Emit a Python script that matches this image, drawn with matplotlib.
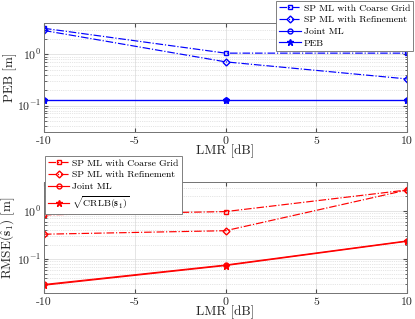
import matplotlib
matplotlib.use("Agg")
import matplotlib.pyplot as plt
from matplotlib.ticker import LogLocator, NullFormatter, FixedLocator, FixedFormatter

plt.rcParams['font.family'] = ['cmr10', 'DejaVu Serif']
plt.rcParams['mathtext.fontset'] = 'cm'
plt.rcParams['axes.formatter.use_mathtext'] = True

# data
lmr = [-10, 0, 10]

peb_coarse = [3.2, 1.05, 1.05]
peb_refine = [2.9, 0.71, 0.33]
peb_joint = [0.129, 0.129, 0.129]
peb_bound = [0.129, 0.129, 0.129]

rmse_coarse = [0.83, 0.97, 2.72]
rmse_refine = [0.33, 0.39, 2.72]
rmse_joint = [0.030, 0.076, 0.24]
rmse_crlb = [0.029, 0.074, 0.235]

xticks = [-10, -5, 0, 5, 10]
xtick_labels = ['-10', '-5', '0', '5', '10']

fig = plt.figure(figsize=(4.15, 3.19), dpi=100)
ax1 = fig.add_axes([0.106, 0.585, 0.875, 0.3436])
ax2 = fig.add_axes([0.106, 0.0815, 0.875, 0.349])

ms = 3.5
lw = 0.85


def style(ax, ylim, ylabel, ylab_x):
    ax.set_yscale('log')
    ax.set_xlim(-10, 10)
    ax.set_ylim(*ylim)
    ax.xaxis.set_major_locator(FixedLocator(xticks))
    ax.xaxis.set_major_formatter(FixedFormatter(xtick_labels))
    ax.yaxis.set_major_locator(LogLocator(base=10, numticks=10))
    ax.yaxis.set_minor_locator(LogLocator(base=10, subs=range(2, 10), numticks=20))
    ax.yaxis.set_minor_formatter(NullFormatter())
    ax.grid(True, which='major', color='0.88', lw=0.6)
    ax.grid(True, which='minor', axis='y', color='0.8', lw=0.5, ls=':')
    ax.tick_params(which='both', direction='in', top=True, right=True,
                   labelsize=8.5, color='0.3', labelcolor='0.15')
    ax.tick_params(which='major', length=3)
    ax.tick_params(which='minor', length=1.8)
    ax.tick_params(axis='x', pad=3)
    ax.tick_params(axis='y', pad=2)
    for s in ax.spines.values():
        s.set_color('0.45')
        s.set_linewidth(0.7)
    ax.set_xlabel('LMR [dB]', fontsize=9.5, color='0.15', labelpad=-1)
    ax.set_ylabel(ylabel, fontsize=9.5, color='0.15')
    ax.yaxis.set_label_coords(ylab_x, 0.5)


ax1.plot(lmr, peb_coarse, ls='-.', marker='s', color='b', mfc='none', ms=ms, lw=lw,
         label='SP ML with Coarse Grid')
ax1.plot(lmr, peb_refine, ls='-.', marker='D', color='b', mfc='none', ms=ms, lw=lw,
         label='SP ML with Refinement')
ax1.plot(lmr, peb_joint, ls='-', marker='o', color='b', mfc='none', ms=ms, lw=lw,
         label='Joint ML')
ax1.plot(lmr, peb_bound, ls='-', marker='*', color='b', ms=ms + 1, lw=lw,
         label='PEB')
style(ax1, (0.03, 4.1), 'PEB [m]', -0.075)

ax2.plot(lmr, rmse_coarse, ls='-.', marker='s', color='r', mfc='none', ms=ms, lw=lw,
         label='SP ML with Coarse Grid')
ax2.plot(lmr, rmse_refine, ls='-.', marker='D', color='r', mfc='none', ms=ms, lw=lw,
         label='SP ML with Refinement')
ax2.plot(lmr, rmse_joint, ls='-', marker='o', color='r', mfc='none', ms=ms, lw=lw,
         label='Joint ML')
ax2.plot(lmr, rmse_crlb, ls='-', marker='*', color='r', ms=ms + 1, lw=lw,
         label=r'$\sqrt{\mathrm{CRLB}(\mathbf{s}_1)}$')
style(ax2, (0.02, 4.04), r'RMSE($\hat{\mathbf{s}}_1$) [m]', -0.073)

leg_kw = dict(fontsize=7, fancybox=False, framealpha=1, edgecolor='0.5',
              handlelength=2.2, handletextpad=0.3, borderpad=0.3,
              labelspacing=0.3, borderaxespad=0)
l1 = ax1.legend(loc='upper right', bbox_to_anchor=(413 / 415, 1 - 1 / 319),
                bbox_transform=fig.transFigure, **leg_kw)
l2 = ax2.legend(loc='upper left', bbox_to_anchor=(45 / 415, 1 - 156 / 319),
                bbox_transform=fig.transFigure, **leg_kw)
for l in (l1, l2):
    l.get_frame().set_linewidth(0.7)
    l.set_zorder(5)

fig.savefig('out.png', dpi=100)
